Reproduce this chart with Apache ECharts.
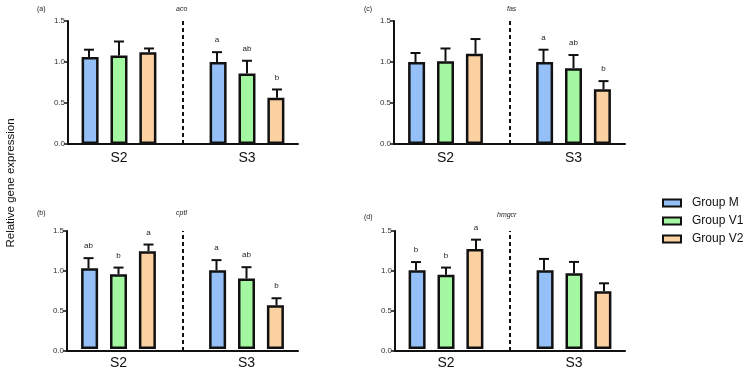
<!DOCTYPE html>
<html>
<head>
<meta charset="utf-8">
<script src="https://cdn.jsdelivr.net/npm/echarts@6/dist/echarts.min.js"></script>
<style>
  html, body { margin: 0; padding: 0; background: #fff; }
  #chart { width: 746px; height: 370px; }
</style>
</head>
<body>
<div id="chart"></div>
<script>
// data (means and upper SEM per group, for S2 and S3)
var stages = ['S2', 'S3'];
var groups = ['Group M', 'Group V1', 'Group V2'];
var colors = ['#94c0f7', '#a4f7a1', '#fcd1a2'];
var yTicks = [0, 0.5, 1.0, 1.5];

var acoMean = [[1.06, 1.0], [1.08, 0.86], [1.12, 0.565]];
var acoErr = [[0.09, 0.12], [0.17, 0.155], [0.045, 0.10]];
var acoLetters = [['', 'a'], ['', 'ab'], ['', 'b']];

var fasMean = [[1.0, 1.0], [1.01, 0.925], [1.10, 0.667]];
var fasErr = [[0.11, 0.15], [0.155, 0.16], [0.18, 0.10]];
var fasLetters = [['', 'a'], ['', 'ab'], ['', 'b']];

var cptMean = [[1.025, 1.0], [0.95, 0.895], [1.243, 0.555]];
var cptErr = [[0.13, 0.13], [0.085, 0.145], [0.085, 0.09]];
var cptLetters = [['ab', 'a'], ['b', 'ab'], ['a', 'b']];

var hmgMean = [[1.0, 1.0], [0.945, 0.962], [1.27, 0.735]];
var hmgErr = [[0.105, 0.145], [0.09, 0.145], [0.12, 0.10]];
var hmgLetters = [['b', ''], ['b', ''], ['a', '']];

var FONT = 'Liberation Sans, Arial, Helvetica, sans-serif';

var chart = echarts.init(document.getElementById('chart'));

// panel layout: axis box and a wider box for the bar categories
var panels = [
    {tag: '(a)', gene: 'aco', mean: acoMean, err: acoErr, letters: acoLetters,
     left: 68, width: 230, top: 21, height: 123, tagX: 32, tagY: 1, geneX: 171, geneY: 1},
    {tag: '(c)', gene: 'fas', mean: fasMean, err: fasErr, letters: fasLetters,
     left: 394, width: 231, top: 21, height: 123, tagX: 359, tagY: 1, geneX: 502, geneY: 1},
    {tag: '(b)', gene: 'cptI', mean: cptMean, err: cptErr, letters: cptLetters,
     left: 67, width: 231, top: 231, height: 120, tagX: 32, tagY: 205, geneX: 171, geneY: 205},
    {tag: '(d)', gene: 'hmgcr', mean: hmgMean, err: hmgErr, letters: hmgLetters,
     left: 395, width: 230, top: 231, height: 120, tagX: 359, tagY: 209, geneX: 492, geneY: 207}
];

var grids = [], xAxes = [], yAxes = [], series = [], titles = [];

panels.forEach(function(p, pi){
    var center = p.left + p.width / 2;
    // grid for visible axes
    grids.push({left: p.left, top: p.top, width: p.width, height: p.height});
    // grid for the bars
    grids.push({left: center - 128, top: p.top, width: 256, height: p.height});
    var gA = pi * 2, gB = pi * 2 + 1;

    xAxes.push({
        type: 'value', gridIndex: gA, min: 0, max: 2,
        axisLine: {show: true, lineStyle: {color: '#111', width: 2}},
        axisTick: {show: false}, axisLabel: {show: false}, splitLine: {show: false}
    });
    yAxes.push({
        type: 'value', gridIndex: gA, min: yTicks[0], max: yTicks[yTicks.length - 1], interval: 0.5,
        axisLine: {show: true, lineStyle: {color: '#111', width: 2}},
        axisTick: {show: true, length: 4, lineStyle: {color: '#111', width: 1.5}},
        axisLabel: {fontSize: 8, color: '#333', margin: 3, fontFamily: FONT,
            formatter: function(v){ return v.toFixed(1); }},
        splitLine: {show: false}
    });
    xAxes.push({
        type: 'category', gridIndex: gB, data: stages,
        axisLine: {show: false}, axisTick: {show: false},
        axisLabel: {fontSize: 14, color: '#111', margin: 7, fontFamily: FONT}
    });
    yAxes.push({
        type: 'value', gridIndex: gB, min: 0, max: 1.5, show: false
    });

    // dashed separator between stages
    series.push({
        type: 'line', xAxisIndex: gA, yAxisIndex: gA, data: [], silent: true,
        markLine: {
            symbol: 'none', silent: true, label: {show: false},
            lineStyle: {color: '#111', width: 2, type: [4, 3]},
            data: [{xAxis: 1}]
        }
    });

    groups.forEach(function(g, gi){
        series.push({
            type: 'bar', name: g, xAxisIndex: gB, yAxisIndex: gB,
            data: p.mean[gi], barWidth: 17, barGap: '70%',
            itemStyle: {color: colors[gi], borderColor: '#111', borderWidth: 2.5}
        });
        var letters = p.letters[gi];
        series.push({
            type: 'custom', xAxisIndex: gB, yAxisIndex: gB, silent: true, z: 1,
            data: stages.map(function(s, i){ return [i, p.mean[gi][i], p.err[gi][i]]; }),
            renderItem: function(params, api){
                var off = (gi - 1) * 30;
                var base = api.coord([api.value(0), api.value(1)]);
                var topPt = api.coord([api.value(0), api.value(1) + api.value(2)]);
                var x = base[0] + off;
                return {
                    type: 'group',
                    children: [
                        {type: 'line', shape: {x1: x, y1: base[1], x2: x, y2: topPt[1]},
                         style: {stroke: '#111', lineWidth: 2}},
                        {type: 'line', shape: {x1: x - 5, y1: topPt[1], x2: x + 5, y2: topPt[1]},
                         style: {stroke: '#111', lineWidth: 2}},
                        {type: 'text', x: x, y: topPt[1] - 12,
                         style: {text: letters[params.dataIndex], fontSize: 8, fill: '#222',
                                 fontFamily: FONT, align: 'center', verticalAlign: 'middle'}}
                    ]
                };
            }
        });
    });

    titles.push({text: p.tag, left: p.tagX, top: p.tagY,
        textStyle: {fontSize: 7, fontWeight: 'normal', color: '#222', fontFamily: FONT}});
    titles.push({text: p.gene, left: p.geneX, top: p.geneY,
        textStyle: {fontSize: 7, fontWeight: 'normal', fontStyle: 'italic', color: '#222', fontFamily: FONT}});
});

var option = {
    backgroundColor: '#fff',
    animation: false,
    title: titles,
    legend: {
        data: groups, orient: 'vertical', left: 657, top: 192, itemGap: 6,
        icon: 'rect', itemWidth: 18, itemHeight: 7,
        itemStyle: {borderColor: '#111', borderWidth: 2},
        textStyle: {fontSize: 12, color: '#111', fontFamily: FONT, padding: [0, 0, 0, 6]}
    },
    graphic: [{
        type: 'text', x: 11, y: 183, rotation: Math.PI / 2,
        style: {text: 'Relative gene expression', fontSize: 11.5, fill: '#111', fontFamily: FONT,
                align: 'center', verticalAlign: 'middle'}
    }],
    grid: grids,
    xAxis: xAxes,
    yAxis: yAxes,
    series: series
};
chart.setOption(option);
</script>
</body>
</html>
